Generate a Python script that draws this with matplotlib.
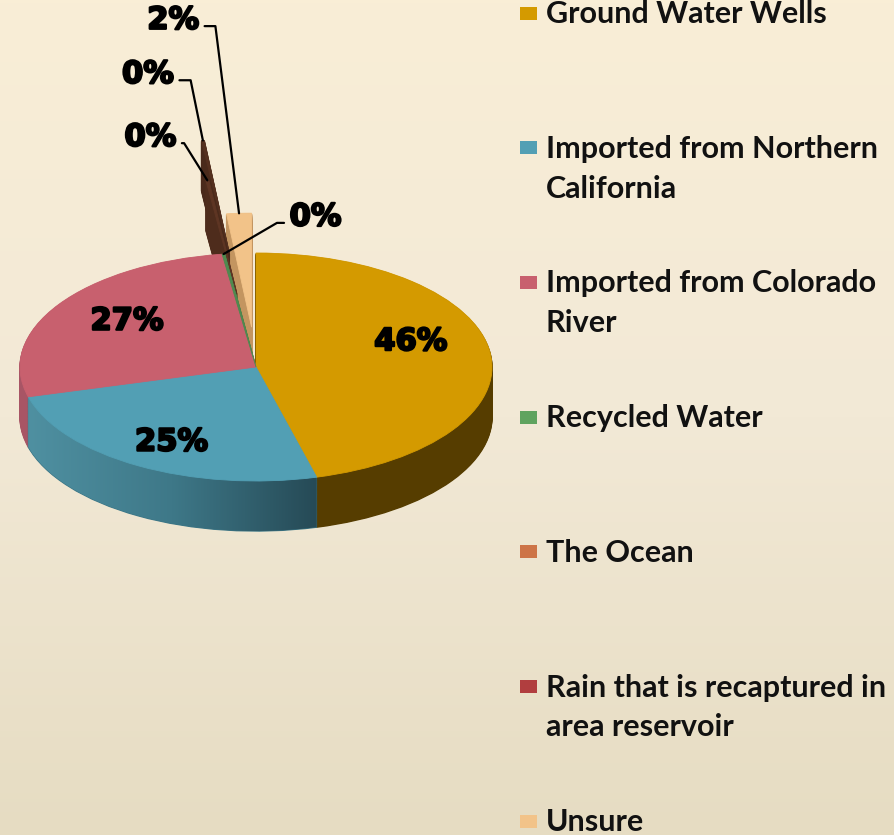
import numpy as np
import matplotlib
matplotlib.use("Agg")
import matplotlib.pyplot as plt
import matplotlib.patheffects as pe
from matplotlib.patches import Rectangle, Polygon
from matplotlib.colors import LinearSegmentedColormap

# ---------------- data ----------------
categories = ["Ground Water Wells", "Imported from Northern California",
              "Imported from Colorado River", "Recycled Water", "The Ocean",
              "Rain that is recaptured in area reservoir", "Unsure"]
legend_lines = [["Ground Water Wells"], ["Imported from Northern", "California"],
                ["Imported from Colorado", "River"], ["Recycled Water"], ["The Ocean"],
                ["Rain that is recaptured in", "area reservoir"], ["Unsure"]]
values = [46, 25, 27, 0.2, 0.2, 0.2, 1.7]

# ---------------- style ----------------
top_colors = ["#D49A00", "#529FB4", "#C8606E", "#4F8A4F", "#5E3523", "#55301F", "#F2C389"]
side_colors = ["#563D00", "#3C7686", "#A85565", "#3F6E3F", "#4E2C1C", "#4A2A1B", "#C39560"]
legend_colors = ["#D49A00", "#529FB4", "#C8606E", "#5FA35F", "#CD7447", "#B13E3F", "#F2C389"]
explode = [0, 0, 0, 0.0, 0.65, 1.0, 0.35]

W, H = 895, 835
fig = plt.figure(figsize=(W / 100, H / 100), dpi=100)

# background gradient
bg = fig.add_axes([0, 0, 1, 1])
cmap = LinearSegmentedColormap.from_list("bg", ["#F9EED6", "#F2E9D6", "#E6DCC2"])
grad = np.linspace(0, 1, 256).reshape(-1, 1)
bg.imshow(grad, cmap=cmap, aspect="auto", extent=[0, 1, 0, 1], origin="upper")
bg.axis("off")

# pie axes (pixel-based scaling: a px / b px per radius unit)
cx, cy = 256, 367
a_px, b_px = 236, 114
ax_w = 520
ax = fig.add_axes([0, 0, ax_w / W, 1])
ax.patch.set_alpha(0)

depth = 50 / b_px
common = dict(startangle=90, counterclock=False, explode=explode, radius=1.0,
              wedgeprops=dict(linewidth=1.0))
for d in np.linspace(depth, 0.0, 56)[:-1]:
    wedges, _ = ax.pie(values, colors=side_colors, center=(0, -d), **common)
    for w in wedges:
        w.set_edgecolor(w.get_facecolor())

# shaded side band for the Northern California slice (horizontal gradient)
ref_wedges, _ = ax.pie(values, colors=["none"] * len(values), center=(0, 0), **common)
wb = ref_wedges[1]
ts = np.deg2rad(np.linspace(wb.theta1, wb.theta2, 120))
top_arc = np.column_stack([wb.center[0] + wb.r * np.cos(ts), wb.center[1] + wb.r * np.sin(ts)])
bot_arc = top_arc - np.array([0, depth])
band = Polygon(np.vstack([top_arc, bot_arc[::-1]]), closed=True, transform=ax.transData,
               facecolor="none", edgecolor="none")
ax.add_patch(band)
side_cmap = LinearSegmentedColormap.from_list("side", ["#4F90A1", "#3E7888", "#264A56"])
xg = np.linspace(0, 1, 256).reshape(1, -1)
im = ax.imshow(xg, cmap=side_cmap, aspect="auto", zorder=1, origin="lower",
               extent=[top_arc[:, 0].min(), top_arc[:, 0].max(),
                       bot_arc[:, 1].min() - 0.05, top_arc[:, 1].max() + 0.05])
im.set_clip_path(band)

top_wedges, _ = ax.pie(values, colors=top_colors, center=(0, 0), **common)
for w in top_wedges:
    w.set_edgecolor(w.get_facecolor())
    w.set_linewidth(0.6)

ax.set_aspect("auto")
ax.set_xlim((0 - cx) / a_px, (ax_w - cx) / a_px)
ax.set_ylim((0 - (H - cy)) / b_px, (H - (H - cy)) / b_px)
ax.axis("off")

total = sum(values)
pcts = [f"{v / total * 100:.0f}%" for v in values]
lab_font = dict(fontsize=22, fontweight="bold", color="black", family="DejaVu Sans",
                path_effects=[pe.withStroke(linewidth=1.6, foreground="black")])

# main slice labels (pixel nudges for the tilted view)
nudges = {0: (-9, 15), 1: (-2, -6), 2: (9, 2)}
for i in range(3):
    w = top_wedges[i]
    mid = np.deg2rad((w.theta1 + w.theta2) / 2)
    r = 0.70
    ax.annotate(pcts[i], xy=(w.center[0] + r * np.cos(mid), w.center[1] + r * np.sin(mid)),
                xytext=nudges[i], textcoords="offset pixels",
                ha="center", va="center", **lab_font)

# small slice labels with leader lines (offsets in pixels from the slice tip)
small = {
    3: dict(off=(66, 37), ha="left", angB=30.3, rel=(0, 0.3)),
    4: dict(off=(-31, 43), ha="right", angB=122, rel=(1, 0.3)),
    5: dict(off=(-29, 66), ha="right", angB=101.5, rel=(1, 0.3)),
    6: dict(off=(-40, 193), ha="right", angB=97.2, rel=(1, 0.3)),
}
for i, s in small.items():
    w = top_wedges[i]
    mid = np.deg2rad((w.theta1 + w.theta2) / 2)
    tip = (w.center[0] + w.r * np.cos(mid), w.center[1] + w.r * np.sin(mid))
    ax.annotate(pcts[i], xy=tip, xytext=s["off"], textcoords="offset pixels",
                ha=s["ha"], va="center",
                arrowprops=dict(arrowstyle="-", color="black", lw=1.6,
                                connectionstyle=f"angle,angleA=0,angleB={s['angB']},rad=0",
                                relpos=s["rel"], shrinkA=2, shrinkB=0),
                **lab_font)

# legend
for i, (lines, col) in enumerate(zip(legend_lines, legend_colors)):
    y = 13 + i * 134.7
    fig.add_artist(Rectangle((520 / W, 1 - (y + 6.5) / H), 17 / W, 13 / H,
                             transform=fig.transFigure, facecolor=col, edgecolor="none"))
    for k, line in enumerate(lines):
        fig.text(546 / W, 1 - (y + 10 + 40 * k) / H, line, ha="left", va="baseline",
                 fontsize=22, fontweight="bold", family="Lato", color="#111111")

fig.savefig("out.png", dpi=100)
